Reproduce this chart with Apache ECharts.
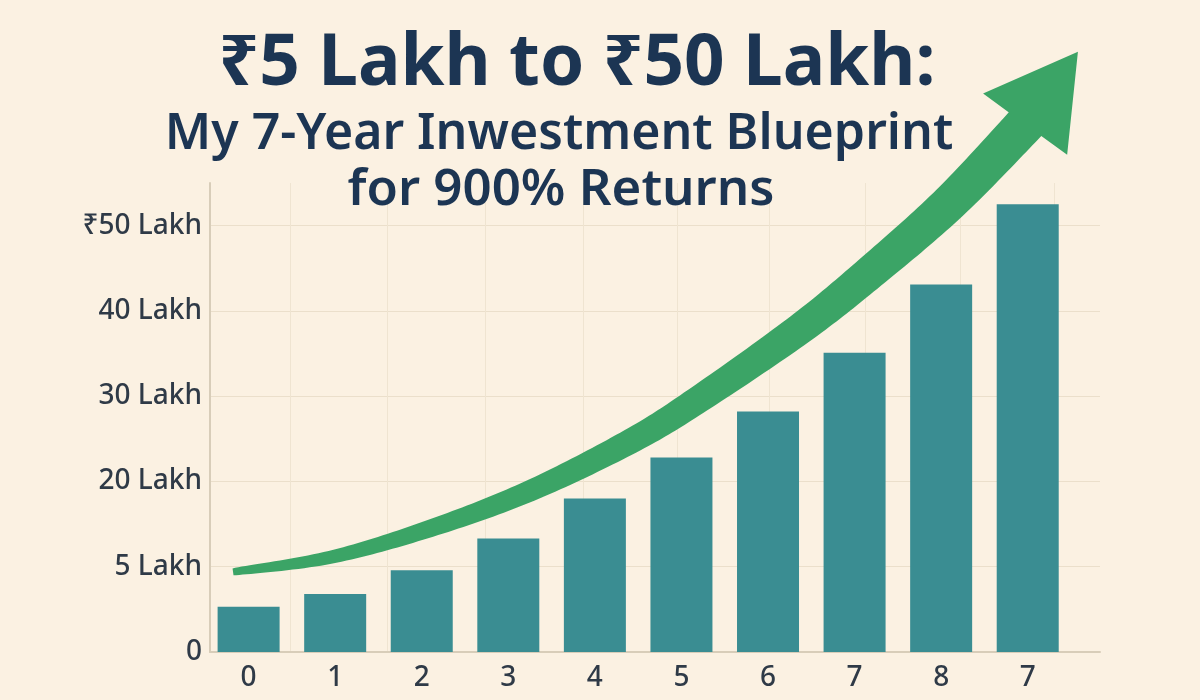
<!DOCTYPE html>
<html>
<head>
<meta charset="utf-8">
<script src="https://cdn.jsdelivr.net/npm/echarts@6/dist/echarts.min.js"></script>
<style>
html,body{margin:0;padding:0;background:#fbf1e2;}
#chart{width:1200px;height:700px;}
</style>
</head>
<body>
<div id="chart"></div>
<script>
// ---- text ----
const titleLine1 = '₹5 Lakh to ₹50 Lakh:';
const titleLine2 = 'My 7-Year Inwestment Blueprint';
const titleLine3 = 'for 900% Returns';

// ---- data ----
const categories = ['0', '1', '2', '3', '4', '5', '6', '7', '8', '7'];
const portfolioValues = [5.3, 6.8, 9.6, 13.3, 18.0, 22.8, 28.2, 35.1, 43.1, 52.5];
const yTickValues = [0, 10, 20, 30, 40, 50];
const yTickLabels = ['0', '5 Lakh', '20 Lakh', '30 Lakh', '40 Lakh', '₹50 Lakh'];
// growth arrow centre line (x in category index, y in axis units); last point is the tip
const arrowX = [-0.18, 0.94, 2.10, 3.25, 4.41, 5.21, 6.37, 7.18, 8.10, 8.97, 9.58];
const arrowY = [9.4, 11.1, 14.5, 18.9, 24.7, 29.7, 37.9, 44.5, 52.7, 61.9, 70.4];

const chart = echarts.init(document.getElementById('chart'), null, {renderer: 'canvas'});

const ARROW = {startWidth: 7, endWidth: 40, taper: 0.75, headHalf: 52, color: '#3ba466'};

function renderArrow(params, api) {
  if (params.dataIndex !== 0) return null;
  const pts = arrowX.map((x, i) => api.coord([x, arrowY[i]]));
  const tip = pts[pts.length - 1];
  const shaft = pts.slice(0, -1);
  const n = shaft.length;
  const samples = [];
  for (let i = 0; i < n - 1; i++) {
    const p0 = shaft[Math.max(i - 1, 0)], p1 = shaft[i], p2 = shaft[i + 1], p3 = shaft[Math.min(i + 2, n - 1)];
    for (let k = 0; k < 20; k++) {
      const t = k / 20, t2 = t * t, t3 = t2 * t;
      const f = (a, b, c, d) => 0.5 * ((2 * b) + (-a + c) * t + (2 * a - 5 * b + 4 * c - d) * t2 + (-a + 3 * b - 3 * c + d) * t3);
      samples.push([f(p0[0], p1[0], p2[0], p3[0]), f(p0[1], p1[1], p2[1], p3[1])]);
    }
  }
  const end = shaft[n - 1];
  samples.push(end);
  const cum = [0];
  for (let i = 1; i < samples.length; i++) {
    cum.push(cum[i - 1] + Math.hypot(samples[i][0] - samples[i - 1][0], samples[i][1] - samples[i - 1][1]));
  }
  const L = cum[cum.length - 1];
  let hx = tip[0] - end[0], hy = tip[1] - end[1];
  const hl = Math.hypot(hx, hy); hx /= hl; hy /= hl;
  const hnx = -hy, hny = hx;
  const left = [], right = [];
  for (let i = 0; i < samples.length; i++) {
    let dx, dy;
    if (i === samples.length - 1) { dx = hx; dy = hy; }
    else {
      const a = samples[Math.max(i - 2, 0)], b = samples[Math.min(i + 2, samples.length - 1)];
      dx = b[0] - a[0]; dy = b[1] - a[1];
      const l = Math.hypot(dx, dy); dx /= l; dy /= l;
    }
    const nx = -dy, ny = dx;
    const w = (ARROW.startWidth + (ARROW.endWidth - ARROW.startWidth) * Math.pow(cum[i] / L, ARROW.taper)) / 2;
    left.push([samples[i][0] + nx * w, samples[i][1] + ny * w]);
    right.push([samples[i][0] - nx * w, samples[i][1] - ny * w]);
  }
  const poly = left.concat([
    [end[0] + hnx * ARROW.headHalf, end[1] + hny * ARROW.headHalf],
    tip,
    [end[0] - hnx * ARROW.headHalf, end[1] - hny * ARROW.headHalf]
  ]).concat(right.reverse());
  return {type: 'polygon', shape: {points: poly}, style: {fill: ARROW.color}};
}

const labelStyle = {fontFamily: 'Noto Sans', fontSize: 28, fontWeight: 500, color: '#2f3a47'};
function titleText(text, x, y, size, weight) {
  return {
    type: 'text', x: x, y: y, z: 10,
    style: {text: text, fontFamily: 'Noto Sans', fontSize: size, fontWeight: weight,
            fill: '#1c3553', align: 'center', verticalAlign: 'middle'}
  };
}

chart.setOption({
  backgroundColor: '#fbf1e2',
  animation: false,
  grid: {left: 210, right: 100, top: 183, bottom: 48},
  graphic: [
    titleText(titleLine1, 577, 65, 71, 'bold'),
    titleText(titleLine2, 559, 135, 50, 600),
    titleText(titleLine3, 561, 190, 51, 600)
  ],
  xAxis: {
    type: 'value',
    min: -0.446,
    max: 9.835,
    axisLine: {show: true, onZero: false, lineStyle: {color: '#d8cdb9', width: 2}},
    axisTick: {show: false, customValues: [0.48, 1.60, 2.73, 3.86, 4.95, 6.02, 7.12, 8.22, 9.31]},
    splitLine: {show: true, lineStyle: {color: '#efe4d1', width: 1}},
    axisLabel: Object.assign({
      customValues: categories.map((c, i) => i),
      formatter: v => categories[Math.round(v)],
      margin: 12
    }, labelStyle)
  },
  yAxis: {
    type: 'value',
    min: 0,
    max: 55,
    axisLine: {show: true, onZero: false, lineStyle: {color: '#d8cdb9', width: 2}},
    axisTick: {show: false, customValues: yTickValues},
    splitLine: {show: true, lineStyle: {color: '#ebdfcb', width: 1}},
    axisLabel: Object.assign({
      customValues: yTickValues,
      formatter: v => yTickLabels[yTickValues.indexOf(v)],
      margin: 8
    }, labelStyle)
  },
  series: [
    {
      type: 'bar',
      data: portfolioValues.map((v, i) => [i, v]),
      barWidth: 62,
      itemStyle: {color: '#3a8d92'},
      silent: true
    },
    {
      type: 'custom',
      data: arrowX.map((x, i) => [x, arrowY[i]]),
      renderItem: renderArrow,
      clip: false,
      silent: true,
      z: 5
    }
  ]
});
</script>
</body>
</html>
